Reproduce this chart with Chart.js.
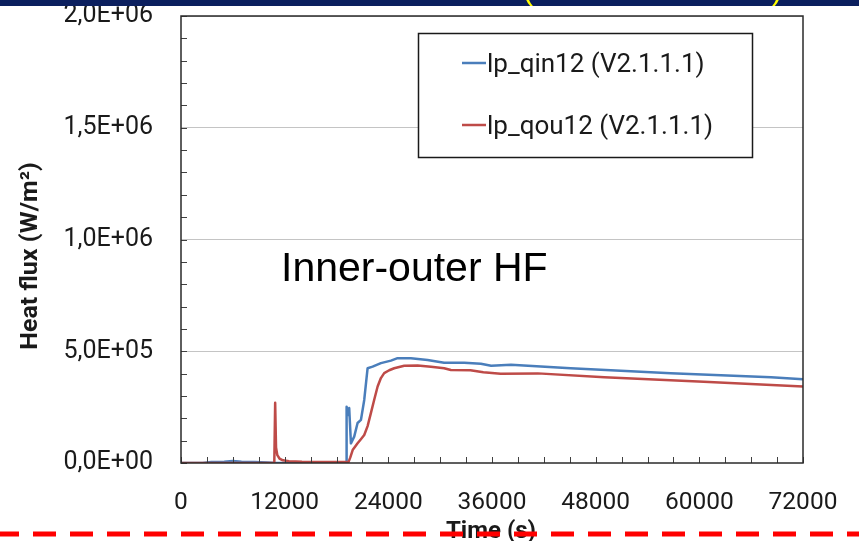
<!DOCTYPE html>
<html>
<head>
<meta charset="utf-8">
<script src="https://cdn.jsdelivr.net/npm/chart.js@4.4.1/dist/chart.umd.min.js"></script>
<style>
  html, body { margin: 0; padding: 0; background: #fff; }
  #wrap { position: relative; width: 859px; height: 541px; }
</style>
</head>
<body>
<div id="wrap"><canvas id="c" width="859" height="541"></canvas></div>
<script>
// Inner heat flux, lp_qin12 (time in s, flux in W/m²)
const qinTime = [0, 2500, 3500, 5000, 6000, 7000, 8500, 10000, 11000, 13000, 16000, 19100,
  19170, 19300, 19470, 19670, 20050, 20440, 20830, 21210, 21600, 22180, 23140, 24300,
  25070, 26610, 28540, 30460, 32780, 34710, 35900, 38200, 45100, 56700, 68300, 72000];
const qinFlux = [0, 0, 4000, 6000, 9000, 6000, 5000, 2000, 0, 0, 1000, 1000,
  252000, 215000, 246000, 88000, 118000, 179000, 193000, 282000, 424000, 431000, 447000, 458000,
  469000, 469000, 461000, 449000, 449000, 444000, 435000, 440000, 424000, 402000, 384000, 375000];

// Outer heat flux, lp_qou12
const qouTime = [0, 10800, 10900, 11000, 11150, 11400, 11800, 12500, 14000, 17000, 19400, 19600,
  19870, 20440, 20800, 21210, 21600, 21980, 22380, 22760, 23140, 23520, 24100, 24680,
  25840, 27390, 28930, 30460, 31240, 33500, 35000, 37000, 41300, 49000, 60500, 72000];
const qouFlux = [0, 0, 270000, 70000, 35000, 20000, 12000, 8000, 6000, 5000, 5000, 25000,
  58000, 88000, 105000, 125000, 165000, 223000, 285000, 342000, 380000, 402000, 415000, 424000,
  435000, 436000, 431000, 424000, 416000, 415000, 406000, 399000, 401000, 384000, 364000, 342000];

const seriesNames = ['lp_qin12 (V2.1.1.1)', 'lp_qou12 (V2.1.1.1)'];
const seriesColors = ['#4a7ebb', '#be4b48'];
const xRange = [0, 72000];
const xMajorStep = 12000;
const xMinorStep = 3000;
const yRange = [0, 2000000];
const yMajorStep = 500000;
const yMinorStep = 100000;
const xAxisTitle = 'Time (s)';
const yAxisTitle = 'Heat flux (W/m²)';
const noteText = 'Inner-outer HF';

const UI = "Roboto, 'Liberation Sans', sans-serif";
const SANS = "'Liberation Sans', Arial, sans-serif";

function pairs(xs, ys) { return xs.map((t, i) => ({ x: t, y: ys[i] })); }

// "2,0E+06" style labels
function sciLabel(v) {
  if (v === 0) return '0,0E+00';
  const e = Math.floor(Math.log10(v) + 1e-9);
  const m = v / Math.pow(10, e);
  return m.toFixed(1).replace('.', ',') + 'E+' + String(e).padStart(2, '0');
}

const decor = {
  id: 'decor',
  beforeDraw(chart) {
    const { ctx, width, height } = chart;
    ctx.save();
    ctx.fillStyle = '#ffffff';
    ctx.fillRect(0, 0, width, height);
    ctx.restore();
  },
  afterDatasetsDraw(chart) {
    const { ctx, chartArea: a, scales: { x, y } } = chart;
    ctx.save();
    // inward minor tick marks
    ctx.strokeStyle = '#404040';
    ctx.lineWidth = 1;
    ctx.beginPath();
    for (let v = yRange[0]; v <= yRange[1]; v += yMinorStep) {
      const py = Math.round(y.getPixelForValue(v)) + 0.5;
      ctx.moveTo(a.left, py); ctx.lineTo(a.left + 6, py);
    }
    for (let t = xRange[0]; t <= xRange[1]; t += xMinorStep) {
      const px = Math.round(x.getPixelForValue(t)) + 0.5;
      ctx.moveTo(px, a.bottom); ctx.lineTo(px, a.bottom - 6);
    }
    ctx.stroke();
    // plot area frame
    ctx.lineWidth = 1.5;
    ctx.strokeStyle = '#2a2a2a';
    ctx.strokeRect(a.left, a.top, a.right - a.left, a.bottom - a.top);
    ctx.restore();
  },
  afterDraw(chart) {
    const { ctx } = chart;
    ctx.save();

    // legend box
    ctx.fillStyle = '#ffffff';
    ctx.fillRect(418, 33, 334, 124);
    ctx.strokeStyle = '#1a1a1a';
    ctx.lineWidth = 1.5;
    ctx.strokeRect(418.5, 33.5, 334, 124);
    const rows = [63, 125];
    chart.data.datasets.forEach((ds, i) => {
      ctx.strokeStyle = ds.borderColor;
      ctx.lineWidth = 2.5;
      ctx.beginPath();
      ctx.moveTo(462, rows[i]); ctx.lineTo(486, rows[i]);
      ctx.stroke();
      ctx.fillStyle = '#1a1a1a';
      ctx.font = '26px ' + UI;
      ctx.textAlign = 'left';
      ctx.textBaseline = 'alphabetic';
      ctx.fillText(ds.label, 487, rows[i] + 8.5);
    });

    // annotation inside the plot
    ctx.fillStyle = '#000000';
    ctx.font = '41px ' + SANS;
    ctx.textAlign = 'left';
    ctx.textBaseline = 'alphabetic';
    ctx.fillText(noteText, 281, 281);

    // y-axis title (rotated)
    ctx.save();
    ctx.translate(31, 256);
    ctx.rotate(-Math.PI / 2);
    ctx.scale(1, 0.95);
    ctx.fillStyle = '#1a1a1a';
    ctx.font = 'bold 25px ' + UI;
    ctx.textAlign = 'center';
    ctx.textBaseline = 'middle';
    ctx.fillText(yAxisTitle, 0, 0);
    ctx.restore();

    // x-axis title
    ctx.fillStyle = '#1a1a1a';
    ctx.font = 'bold 24px ' + UI;
    ctx.textAlign = 'center';
    ctx.textBaseline = 'alphabetic';
    ctx.fillText(xAxisTitle, 491, 538);

    // slide header strip
    ctx.fillStyle = '#0b1f5e';
    ctx.fillRect(0, 0, chart.width, 6);
    ctx.save();
    ctx.beginPath();
    ctx.rect(0, 0, chart.width, 6);
    ctx.clip();
    ctx.fillStyle = '#ffff00';
    ctx.font = '30px ' + SANS;
    ctx.textAlign = 'center';
    ctx.textBaseline = 'alphabetic';
    ctx.fillText('(', 528, 0);
    ctx.fillText(')', 777, 0);
    ctx.restore();

    // red dashed separator
    ctx.strokeStyle = '#ff0000';
    ctx.lineWidth = 5;
    ctx.setLineDash([23, 14]);
    ctx.beginPath();
    ctx.moveTo(-4, 534); ctx.lineTo(chart.width, 534);
    ctx.stroke();

    ctx.restore();
  }
};

new Chart(document.getElementById('c'), {
  type: 'line',
  data: {
    datasets: [
      { label: seriesNames[0], data: pairs(qinTime, qinFlux), borderColor: seriesColors[0], order: 1 },
      { label: seriesNames[1], data: pairs(qouTime, qouFlux), borderColor: seriesColors[1], order: 0 }
    ]
  },
  options: {
    responsive: false,
    animation: false,
    devicePixelRatio: 1,
    layout: { padding: { top: 16, right: 56, bottom: 0, left: 0 } },
    elements: {
      point: { radius: 0, hoverRadius: 0 },
      line: { borderWidth: 2.5, tension: 0, fill: false, borderJoinStyle: 'round' }
    },
    plugins: { legend: { display: false }, tooltip: { enabled: false } },
    scales: {
      x: {
        type: 'linear',
        min: xRange[0], max: xRange[1],
        border: { display: false },
        grid: { display: false, drawTicks: false },
        ticks: {
          stepSize: xMajorStep,
          padding: 28,
          color: '#1a1a1a',
          font: { family: UI, size: 24.5, lineHeight: 1 },
          maxRotation: 0,
          callback: v => String(v)
        },
        afterFit(s) { s.height = 78; s.paddingLeft = 0; s.paddingRight = 0; }
      },
      y: {
        type: 'linear',
        min: yRange[0], max: yRange[1],
        border: { display: false },
        grid: {
          drawTicks: false,
          lineWidth: 1,
          color: c => (c.tick && c.tick.value === 0) ? 'rgba(0,0,0,0)' : '#c4c4c4'
        },
        ticks: {
          stepSize: yMajorStep,
          padding: 28,
          color: '#1a1a1a',
          font: { family: UI, size: 25, lineHeight: 1 },
          callback: v => sciLabel(v)
        },
        afterFit(s) { s.width = 181; s.paddingTop = 0; s.paddingBottom = 0; }
      }
    }
  },
  plugins: [decor]
});
</script>
</body>
</html>
